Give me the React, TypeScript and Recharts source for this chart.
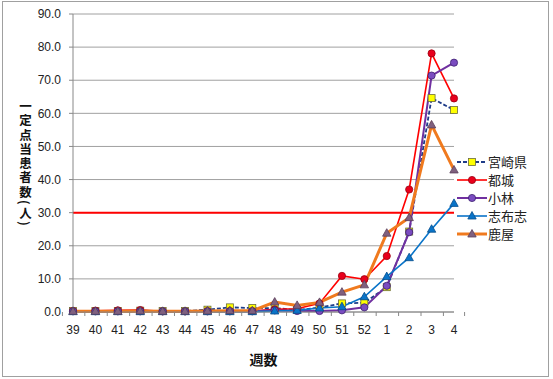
import React from 'react';
import { LineChart, Line, XAxis, YAxis, CartesianGrid, ReferenceLine } from 'recharts';

const weeks = ['39','40','41','42','43','44','45','46','47','48','49','50','51','52','1','2','3','4'];
const miyazaki = [0.3,0.3,0.3,0.4,0.3,0.3,0.7,1.4,1.2,1.2,0.6,1.3,2.6,2.8,7.5,24.3,64.6,61.0];
const miyakonojo = [0.3,0.4,0.5,0.6,0.2,0.2,0.3,0.3,0.3,0.8,1.0,2.6,10.9,9.9,16.9,37.0,78.1,64.5];
const kobayashi = [0.2,0.2,0.2,0.2,0.2,0.2,0.2,0.2,0.2,0.5,0.3,0.3,0.5,1.4,7.9,24.1,71.4,75.3];
const shibushi = [0.1,0.1,0.1,0.1,0.1,0.1,0.1,0.1,0.1,0.3,0.5,1.2,1.6,4.6,10.7,16.4,25.0,32.8];
const kanoya = [0.2,0.2,0.2,0.3,0.2,0.2,0.3,0.4,0.4,3.0,2.0,2.9,6.0,8.2,23.8,28.5,56.5,42.9];
const yTicks = [0,10,20,30,40,50,60,70,80,90];
const yTitle = '一定点当患者数(人)';

const data = weeks.map((w, i) => ({
  week: w,
  miyazaki: miyazaki[i],
  miyakonojo: miyakonojo[i],
  kobayashi: kobayashi[i],
  shibushi: shibushi[i],
  kanoya: kanoya[i],
}));

const FONT = '"Liberation Sans", "Noto Sans CJK JP", sans-serif';
const JP = '"Noto Sans CJK JP", sans-serif';

type Shape = 'square' | 'circle' | 'triangle';

const Marker = ({ cx, cy, shape, fill, stroke }: { cx: number; cy: number; shape: Shape; fill: string; stroke: string }) => {
  if (cx == null || cy == null) return null;
  if (shape === 'square') return <rect x={cx - 3.5} y={cy - 3.5} width={7} height={7} fill={fill} stroke={stroke} strokeWidth={0.8} />;
  if (shape === 'circle') return <circle cx={cx} cy={cy} r={3.6} fill={fill} stroke={stroke} strokeWidth={0.8} />;
  return <polygon points={`${cx},${cy - 4.5} ${cx + 4.2},${cy + 3} ${cx - 4.2},${cy + 3}`} fill={fill} stroke={stroke} strokeWidth={0.8} />;
};

const series = [
  { key: 'miyazaki', name: '宮崎県', color: '#1F3C88', width: 1.8, dash: '4 2', shape: 'square' as Shape, mFill: '#FFFF00', mStroke: '#6B6B3A' },
  { key: 'miyakonojo', name: '都城', color: '#FF0000', width: 1.6, dash: undefined, shape: 'circle' as Shape, mFill: '#E8001C', mStroke: '#9A0010' },
  { key: 'kobayashi', name: '小林', color: '#7030A0', width: 2, dash: undefined, shape: 'circle' as Shape, mFill: '#7A4CC0', mStroke: '#3E2070' },
  { key: 'shibushi', name: '志布志', color: '#0A74C8', width: 1.6, dash: undefined, shape: 'triangle' as Shape, mFill: '#0A74C8', mStroke: '#064C8A' },
  { key: 'kanoya', name: '鹿屋', color: '#F07A1E', width: 3, dash: undefined, shape: 'triangle' as Shape, mFill: '#80607F', mStroke: '#5A3F5A' },
];

const HALF = 381 / 18 / 2;

const XTick = (props: any) => {
  const { x, y, payload, index } = props;
  const axisY = y - 4;
  return (
    <g>
      <line x1={x - HALF} y1={axisY} x2={x - HALF} y2={axisY + 4} stroke="#888" />
      {index === weeks.length - 1 && <line x1={x + HALF} y1={axisY} x2={x + HALF} y2={axisY + 4} stroke="#888" />}
      <text x={x} y={y + 18} textAnchor="middle" fontSize={12} fill="#222" fontFamily={FONT}>{payload.value}</text>
    </g>
  );
};

const LegendBox = () => (
  <div style={{ position: 'absolute', left: 457, top: 153, fontFamily: JP }}>
    {series.map((s) => (
      <div key={s.key} style={{ display: 'flex', alignItems: 'center', height: 18 }}>
        <svg width={30} height={12} style={{ display: 'block' }}>
          <line x1={0} y1={6} x2={30} y2={6} stroke={s.color} strokeWidth={s.width} strokeDasharray={s.dash} />
          <Marker cx={15} cy={6} shape={s.shape} fill={s.mFill} stroke={s.mStroke} />
        </svg>
        <span style={{ fontSize: 13, color: '#222', marginLeft: 1, lineHeight: '18px' }}>{s.name}</span>
      </div>
    ))}
  </div>
);

export default function App() {
  return (
    <div style={{ position: 'absolute', left: 0, top: 0, width: 553, height: 379, background: '#fff' }}>
      <div style={{ position: 'absolute', left: 2, top: 1, width: 545, height: 374, border: '1px solid #A0A0A0' }} />
      <div style={{ position: 'absolute', left: 0, top: 0 }}>
        <LineChart width={553} height={379} data={data} margin={{ top: 14, right: 99, left: 0, bottom: 0 }}>
          <CartesianGrid horizontal={true} vertical={false} stroke="#A0A0A0" strokeWidth={1} />
          <XAxis
            dataKey="week"
            height={67}
            axisLine={{ stroke: '#888' }}
            tickLine={false}
            tickSize={4}
            tickMargin={0}
            interval={0}
            tick={<XTick />}
            label={{ value: '週数', position: 'insideBottom', offset: 14, fontSize: 14, fontWeight: 'bold', fill: '#111', fontFamily: JP } as any}
          />
          <YAxis
            width={73}
            domain={[0, 90]}
            ticks={yTicks}
            interval={0}
            tickFormatter={(v: number) => v.toFixed(1)}
            axisLine={{ stroke: '#888' }}
            tickLine={{ stroke: '#888' }}
            tickSize={4}
            tickMargin={8}
            tick={{ fontSize: 12, fill: '#222', fontFamily: FONT }}
          />
          <ReferenceLine y={30} stroke="#FF0000" strokeWidth={2} />
          {series.map((s) => (
            <Line
              key={s.key}
              type="linear"
              dataKey={s.key}
              name={s.name}
              stroke={s.color}
              strokeWidth={s.width}
              strokeDasharray={s.dash}
              isAnimationActive={false}
              dot={(p: any) => <Marker key={`${s.key}-${p.index}`} cx={p.cx} cy={p.cy} shape={s.shape} fill={s.mFill} stroke={s.mStroke} />}
              activeDot={false}
            />
          ))}
        </LineChart>
      </div>
      <div
        style={{
          position: 'absolute',
          left: 18,
          top: 100,
          width: 14,
          writingMode: 'vertical-rl',
          fontFamily: JP,
          fontSize: 12.5,
          fontWeight: 'bold',
          letterSpacing: 1.8,
          lineHeight: '14px',
          color: '#111',
          whiteSpace: 'nowrap',
        }}
      >
        {yTitle}
      </div>
      <LegendBox />
    </div>
  );
}
